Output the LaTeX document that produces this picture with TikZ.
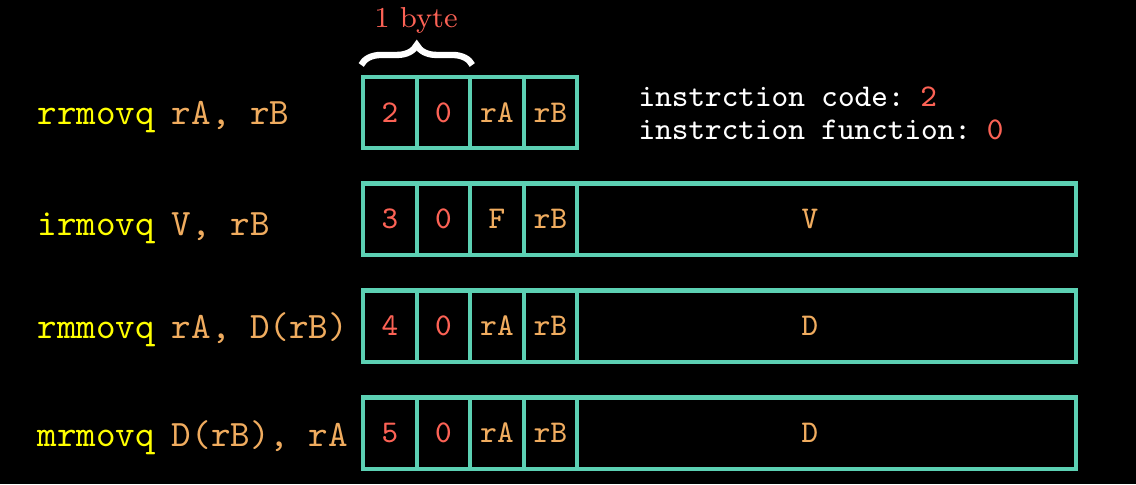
\documentclass[tikz,border=0pt]{standalone}
\usetikzlibrary{decorations.pathreplacing}
\definecolor{tealc}{HTML}{5CD0B3}
\definecolor{redc}{HTML}{FC6255}
\definecolor{goldc}{HTML}{F0AC5F}
\definecolor{yelc}{HTML}{FFFF00}
\newcommand{\gp}{\hspace{0.45em}}
\begin{document}
\begin{tikzpicture}[x=0.01cm,y=-0.01cm,
  cell/.style={draw=tealc,line width=1.15pt,minimum height=0.71cm,inner sep=0pt,font=\ttfamily\fontsize{9}{11}\selectfont},
  small/.style={cell,minimum width=0.535cm},
  lbl/.style={anchor=west,inner sep=0pt,font=\ttfamily\fontsize{10.6}{12}\selectfont},
  info/.style={anchor=west,inner sep=0pt,text=white,font=\ttfamily\fontsize{9}{11}\selectfont},
  celltxt/.style={text=goldc,font=\ttfamily\fontsize{9}{11}\selectfont}]
\fill[black] (0,0) rectangle (1136,484);
\useasboundingbox (0,0) rectangle (1136,484);
% row labels
\node[lbl] (l1) at (37,117) {\textcolor{yelc}{rrmovq}\gp\textcolor{goldc}{rA, rB}};
\node[lbl] (l2) at (37,228) {\textcolor{yelc}{irmovq}\gp\textcolor{goldc}{V, rB}};
\node[lbl] (l3) at (37,330) {\textcolor{yelc}{rmmovq}\gp\textcolor{goldc}{rA, D(rB)}};
\node[lbl] (l4) at (37,438) {\textcolor{yelc}{mrmovq}\gp\textcolor{goldc}{D(rB), rA}};
% row 1
\node[small,text=redc]  (a1) at (390,112.5) {2};
\node[small,text=redc]  (a2) at (443.5,112.5) {0};
\node[small,text=goldc] (a3) at (497,112.5) {rA};
\node[small,text=goldc] (a4) at (550.5,112.5) {rB};
% row 2
\node[small,text=redc]  (b1) at (390,219) {3};
\node[small,text=redc]  (b2) at (443.5,219) {0};
\node[small,text=goldc] (b3) at (497,219) {F};
\node[small,text=goldc] (b4) at (550.5,219) {rB};
\node[cell,minimum width=4.99cm] (b5) at (826.5,219) {};
\node[celltxt] (bv) at (810,219) {V};
% row 3
\node[small,text=redc]  (c1) at (390,326) {4};
\node[small,text=redc]  (c2) at (443.5,326) {0};
\node[small,text=goldc] (c3) at (497,326) {rA};
\node[small,text=goldc] (c4) at (550.5,326) {rB};
\node[cell,minimum width=4.99cm] (c5) at (826.5,326) {};
\node[celltxt] (cv) at (810,326) {D};
% row 4
\node[small,text=redc]  (d1) at (390,433) {5};
\node[small,text=redc]  (d2) at (443.5,433) {0};
\node[small,text=goldc] (d3) at (497,433) {rA};
\node[small,text=goldc] (d4) at (550.5,433) {rB};
\node[cell,minimum width=4.99cm] (d5) at (826.5,433) {};
\node[celltxt] (dv) at (810,433) {D};
% brace
\draw[white,line width=1.8pt,decorate,decoration={brace,amplitude=0.2cm,aspect=0.5}]
  ([yshift=0.1cm]a1.north west) -- ([yshift=0.1cm]a2.north east);
\node[text=redc,font=\fontsize{8.2}{10}\selectfont,inner sep=0pt] (by) at (416,20) {1 byte};
% info
\node[info] (i1) at (638,97) {instrction code:\hspace{0.5em}\textcolor{redc}{2}};
\node[info] (i2) at (638,130) {instrction function:\hspace{0.5em}\textcolor{redc}{0}};
\end{tikzpicture}
\end{document}
